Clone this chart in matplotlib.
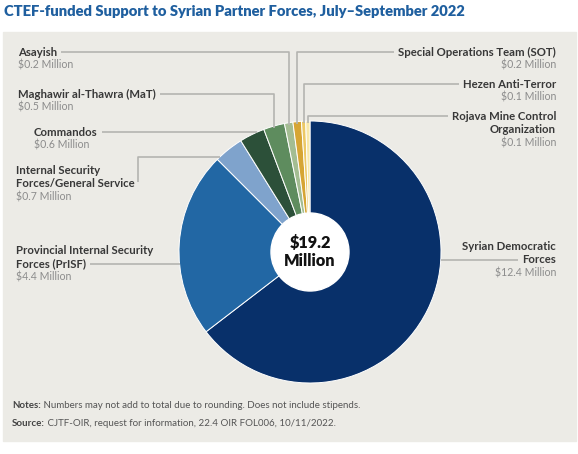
import numpy as np
import matplotlib
matplotlib.use("Agg")
import matplotlib.pyplot as plt
from matplotlib.patches import Rectangle, Circle

plt.rcParams['font.family'] = ['Lato', 'DejaVu Sans']

# data
names = ["Syrian Democratic\nForces",
         "Provincial Internal Security\nForces (PrISF)",
         "Internal Security\nForces/General Service",
         "Commandos",
         "Maghawir al-Thawra (MaT)",
         "Asayish",
         "Special Operations Team (SOT)",
         "Hezen Anti-Terror",
         "Rojava Mine Control\nOrganization"]
values = [12.4, 4.4, 0.7, 0.6, 0.5, 0.2, 0.2, 0.1, 0.1]
colors = ["#08306a", "#2267a4", "#7fa3cc", "#2c5039", "#5e8c5e",
          "#a3bd92", "#d6a534", "#ecc865", "#f8e8a8"]
title = "CTEF-funded Support to Syrian Partner Forces, July\u2013September 2022"
note = "Numbers may not add to total due to rounding. Does not include stipends."
source = "CJTF-OIR, request for information, 22.4 OIR FOL006, 10/11/2022."

W, H = 578, 454
cx, cy, R = 310, 252, 131   # pie centre / radius in pixels (y from top)
hole = 39

# label layout: x, y of first line (from top), ha, leader kind, leader line index
layout = [
    (556, 246, "right", "right", 1),
    (16, 250, "left", "h", 1),
    (16, 170, "left", "elbow", 1),
    (34, 132, "left", "h", 0),
    (18, 94, "left", "down", 0),
    (18, 52, "left", "down", 0),
    (556, 52, "right", "down", 0),
    (556, 84, "right", "down", 0),
    (556, 116, "right", "down", 0),
]
LS = 13.5
name_col = "#383838"
val_col = "#8c8c8c"
line_col = "#b4b4b0"

fig = plt.figure(figsize=(W / 100, H / 100), dpi=100)
ax = fig.add_axes([0, 0, 1, 1])

def Y(y):
    return H - y

ax.add_patch(Rectangle((3, Y(441)), 573, 409, color="#ecebe6", zorder=0))

wedges, _ = ax.pie(values, colors=colors, startangle=90, counterclock=False,
                   center=(cx, Y(cy)), radius=R, frame=True,
                   wedgeprops=dict(edgecolor="white", linewidth=0.7))
ax.set_xlim(0, W)
ax.set_ylim(0, H)
ax.axis("off")
ax.add_patch(Circle((cx, Y(cy)), hole, color="white", zorder=3))
ax.text(cx, Y(cy), "$%.1f\nMillion" % sum(values), ha="center", va="center",
        fontsize=11.8, fontweight="heavy", color="#111111", linespacing=1.15, zorder=4)

ax.text(4, Y(12), title, fontsize=10.6, fontweight="heavy", color="#1f5f9f",
        ha="left", va="center")

# wedge mid angles (clockwise from top)
frac = np.array(values) / sum(values) * 360
mids = np.cumsum(frac) - frac / 2

fig.canvas.draw()
rend = fig.canvas.get_renderer()
inv = ax.transData.inverted()

for i, (nm, v) in enumerate(zip(names, values)):
    x, y, ha, kind, li = layout[i]
    lines = nm.split("\n")
    objs = []
    for k, ln in enumerate(lines):
        t = ax.text(x, Y(y + k * LS), ln, ha=ha, va="center", fontsize=8.2,
                    fontweight="bold", color=name_col)
        objs.append(t)
    ax.text(x, Y(y + len(lines) * LS), "$%s Million" % v, ha=ha, va="center",
            fontsize=7.6, color=val_col)
    bb = objs[li].get_window_extent(rend)
    x0 = inv.transform((bb.x0, 0))[0]
    x1 = inv.transform((bb.x1, 0))[0]
    ly = y + li * LS
    kw = dict(color=line_col, lw=1.2, zorder=1, solid_capstyle="butt")
    if kind == "down":
        xm = cx + R * np.sin(np.radians(mids[i]))
        yt = cy - np.sqrt(R ** 2 - (xm - cx) ** 2)
        xs = x1 + 4 if ha == "left" else x0 - 4
        ax.plot([xs, xm, xm], [Y(ly), Y(ly), Y(yt) - 2], **kw)
    elif kind == "h":
        xe = cx - np.sqrt(R ** 2 - (ly - cy) ** 2)
        ax.plot([x1 + 4, xe], [Y(ly), Y(ly)], **kw)
    elif kind == "elbow":
        ye = 157
        xe = cx - np.sqrt(R ** 2 - (ye - cy) ** 2)
        ax.plot([x1 + 3, x1 + 3, xe], [Y(ly - 2), Y(ye), Y(ye)], **kw)
    elif kind == "right":
        xe = cx + np.sqrt(R ** 2 - (ly - cy) ** 2)
        ax.plot([xe, x0 - 4], [Y(ly), Y(ly)], **kw)

t1 = ax.text(12, Y(405), "Notes:", fontsize=7.0, fontweight="bold",
             color="#444444", ha="left", va="center")
ax.annotate(" " + note, xy=(1, 0.5), xycoords=t1, fontsize=7.0, color="#555555",
            ha="left", va="center")
t2 = ax.text(12, Y(423), "Source:", fontsize=7.0, fontweight="bold",
             color="#444444", ha="left", va="center")
ax.annotate(" " + source, xy=(1, 0.5), xycoords=t2, fontsize=7.0, color="#555555",
            ha="left", va="center")

fig.savefig("out.png", dpi=100)
